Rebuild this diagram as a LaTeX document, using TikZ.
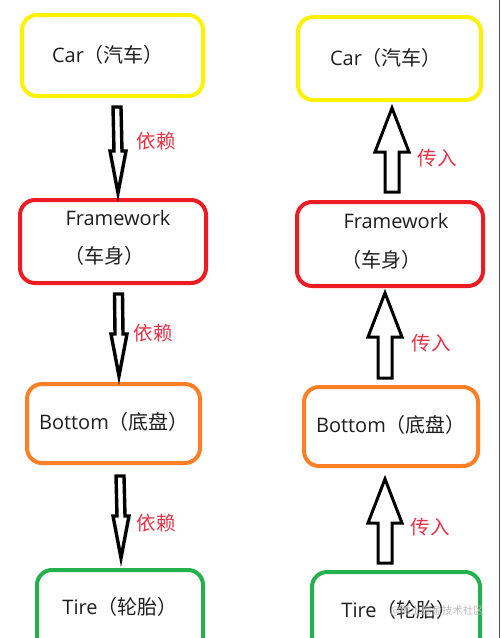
\documentclass[tikz,border=0pt]{standalone}
\usepackage{fontspec}
\setmainfont{Open Sans}
\newfontfamily\cjk{Noto Sans CJK SC}
\usetikzlibrary{calc}
\definecolor{pyellow}{RGB}{255,242,0}
\definecolor{pred}{RGB}{237,28,36}
\definecolor{porange}{RGB}{255,127,39}
\definecolor{pgreen}{RGB}{34,177,76}
\definecolor{lblred}{RGB}{232,50,70}
\definecolor{txt}{RGB}{30,30,30}
\tikzset{
  box/.style={draw=#1, line width=4pt, rounded corners=15pt, inner sep=0pt},
  btext/.style={text=txt, inner sep=0pt, font=\fontsize{20}{24}\selectfont},
  lbl/.style={text=lblred, inner sep=0pt, font=\cjk\fontsize{19.5}{22}\selectfont},
  deparr/.style={draw=black, fill=white, line width=3.4pt, line join=miter, miter limit=20},
  passarr/.style={draw=black, fill=white, line width=3pt, line join=miter, miter limit=20},
}
\newcommand\DownArr[2]{\draw[deparr] ($(#1)+(-4,0)$) -- ($(#1)+(4,0)$) -- ($(#2)+(4,-42)$) -- ($(#2)+(8,-42)$) -- (#2) -- ($(#2)+(-8,-42)$) -- ($(#2)+(-4,-42)$) -- cycle;}
\newcommand\UpArr[2]{\draw[passarr] ($(#1)+(-7,0)$) -- ($(#1)+(7,0)$) -- ($(#2)+(7,44)$) -- ($(#2)+(17,44)$) -- (#2) -- ($(#2)+(-17,44)$) -- ($(#2)+(-7,44)$) -- cycle;}
\begin{document}
\begin{tikzpicture}[x=1pt,y=-1pt]
\useasboundingbox (0,0) rectangle (501,638);
\clip (0,0) rectangle (501,638);
\fill[white] (0,0) rectangle (501,638);
% left column boxes
\node[box=pyellow, minimum width=181pt, minimum height=81pt] (lcar) at (112.5,55.5) {};
\node[box=pred, minimum width=186pt, minimum height=83pt] (lfw) at (113,241.5) {};
\node[box=porange, minimum width=173pt, minimum height=79pt] (lbot) at (113.5,423.5) {};
\node[box=pgreen, minimum width=166pt, minimum height=84pt] (ltire) at (120,612) {};
\node[btext] (lcart) at (108,55) {Car{\cjk（汽车）}};
\node[btext] (lfwt) at (118,218) {Framework};
\node[btext] (lfwc) at (104,256) {\cjk（车身）};
\node[btext] (lbott) at (114,422) {Bottom{\cjk（底盘）}};
\node[btext] (ltiret) at (120,607) {Tire{\cjk（轮胎）}};
% right column boxes
\node[box=pyellow, minimum width=183pt, minimum height=83pt] (rcar) at (389.5,58.5) {};
\node[box=pred, minimum width=186pt, minimum height=84pt] (rfw) at (390,244) {};
\node[box=porange, minimum width=174pt, minimum height=79pt] (rbot) at (391,426.5) {};
\node[box=pgreen, minimum width=168pt, minimum height=84pt] (rtire) at (396,614) {};
\node[btext] (rcart) at (386,58) {Car{\cjk（汽车）}};
\node[btext] (rfwt) at (396,221) {Framework};
\node[btext] (rfwc) at (381,260) {\cjk（车身）};
\node[btext] (rbott) at (391,425) {Bottom{\cjk（底盘）}};
\node[btext] (rtiret) at (399,610) {Tire{\cjk（轮胎）}};
% left arrows (depend)
\coordinate (la1s) at (117,107);
\coordinate (la1e) at (118,193);
\coordinate (la2s) at (118.5,294);
\coordinate (la2e) at (119,376);
\coordinate (la3s) at (120,476);
\coordinate (la3e) at (121,558);
\DownArr{la1s}{la1e}
\DownArr{la2s}{la2e}
\DownArr{la3s}{la3e}
\node[lbl] (ll1) at (156,141) {依赖};
\node[lbl] (ll2) at (153,333) {依赖};
\node[lbl] (ll3) at (156,523) {依赖};
% right arrows (inject)
\coordinate (ra1s) at (392,192);
\coordinate (ra1e) at (392,108);
\coordinate (ra2s) at (385,378);
\coordinate (ra2e) at (385,293);
\coordinate (ra3s) at (385,563);
\coordinate (ra3e) at (385,479);
\UpArr{ra1s}{ra1e}
\UpArr{ra2s}{ra2e}
\UpArr{ra3s}{ra3e}
\node[lbl] (rl1) at (437,158) {传入};
\node[lbl] (rl2) at (431,343) {传入};
\node[lbl] (rl3) at (430,527) {传入};
% watermark
\node[text=gray!55, inner sep=0pt, font=\cjk\fontsize{10.5}{12}\selectfont] (wm) at (437,611) {@稀土掘金技术社区};
% right edge line
\draw[black!70, line width=1.5pt] (499.5,0) -- (499.5,638);
\end{tikzpicture}
\end{document}
